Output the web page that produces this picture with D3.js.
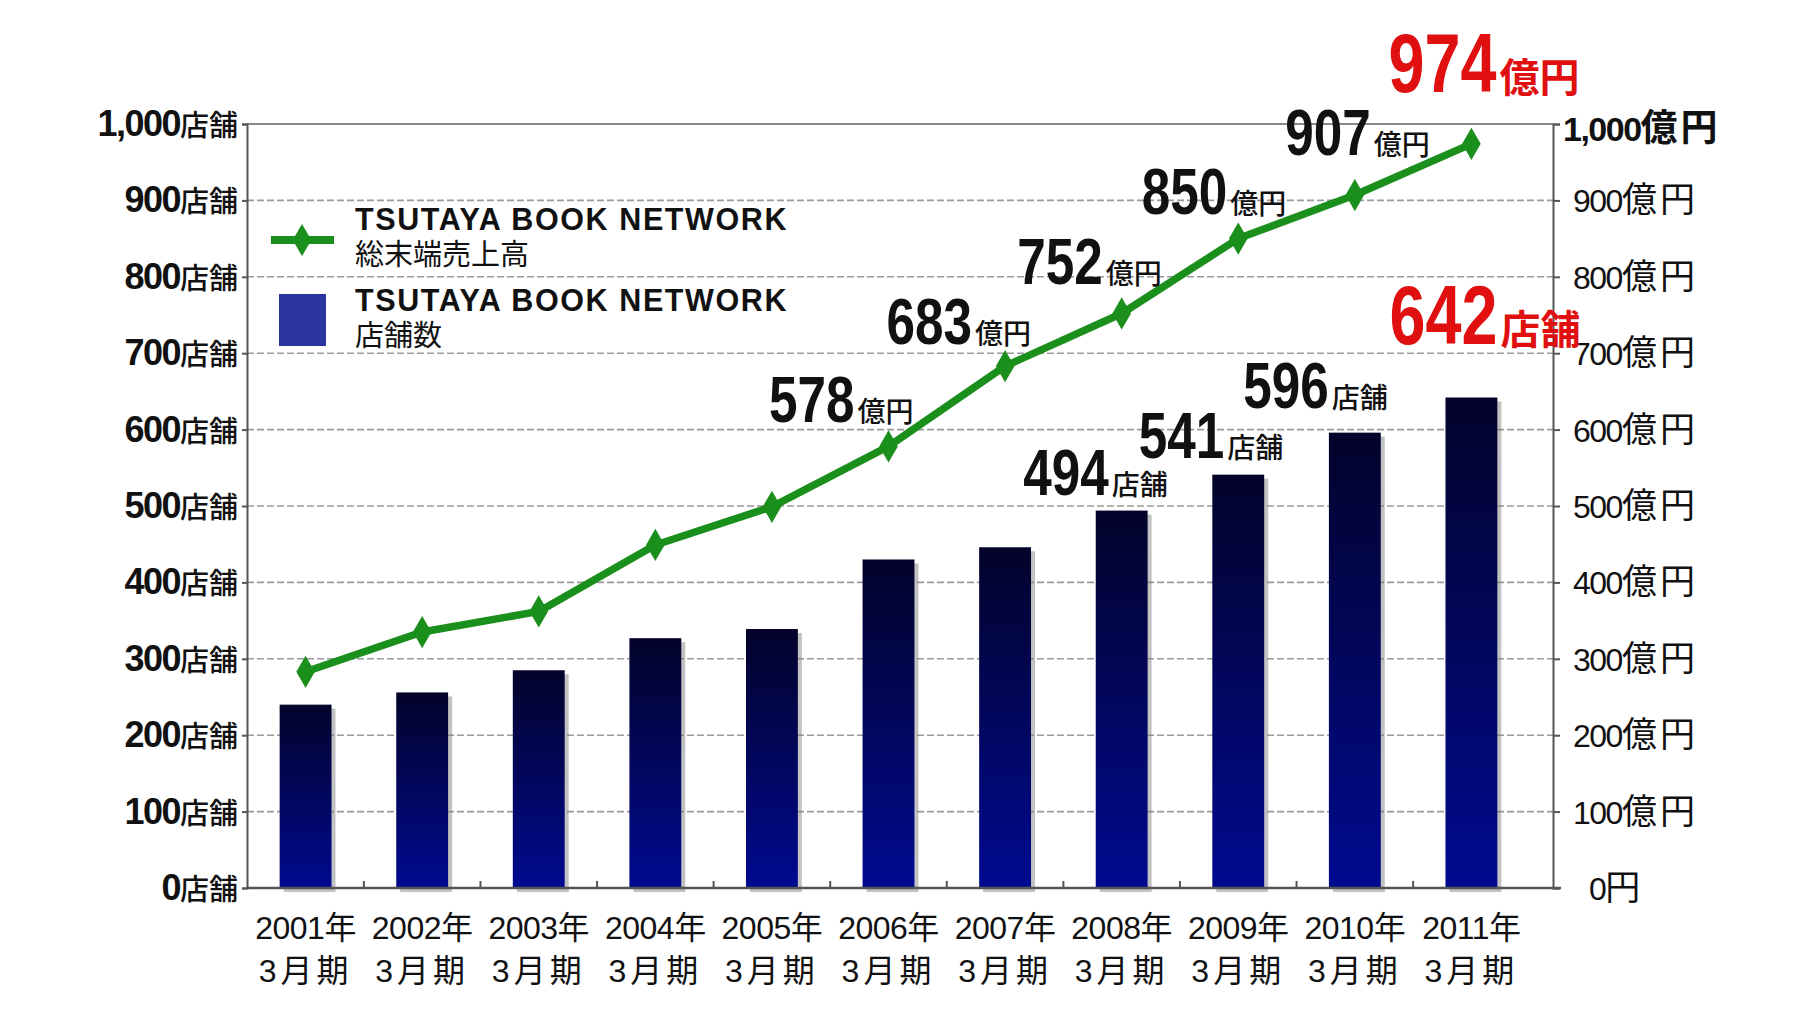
<!DOCTYPE html>
<html>
<head>
<meta charset="utf-8">
<script src="https://cdn.jsdelivr.net/npm/d3@7"></script>
<style>
  body { margin: 0; background: #fff; }
  svg { display: block; }
</style>
</head>
<body>
<div id="chart"></div>
<script>
// data
var years = ["2001年", "2002年", "2003年", "2004年", "2005年", "2006年", "2007年", "2008年", "2009年", "2010年", "2011年"];
var period = "3月期";
var stores = [240, 256, 285, 327, 339, 430, 446, 494, 541, 596, 642];   // 店舗数
var sales = [283, 335, 362, 449, 499, 578, 683, 752, 850, 907, 974];    // 億円
var ticks = [0, 100, 200, 300, 400, 500, 600, 700, 800, 900, 1000];
var salesLabelled = [5, 6, 7, 8, 9, 10];
var storesLabelled = [7, 8, 9, 10];
var legendNames = ["TSUTAYA BOOK NETWORK", "総末端売上高", "TSUTAYA BOOK NETWORK", "店舗数"];

// label nudges (px) relative to the point / bar top
var salesNudge = [[25, -24], [26, -22], [40, -29], [48, -25], [75, -40], [108, -52]];
var storesNudge = [[46, -16], [45, -17], [33, -25], [109, -54]];

var W = 1807, H = 1018,
    pL = 247, pR = 1553, pT = 124, pB = 888;

var svg = d3.select("#chart").append("svg")
    .attr("width", W).attr("height", H);

var defs = svg.append("defs");
var grad = defs.append("linearGradient").attr("id", "barGrad")
    .attr("x1", 0).attr("y1", 0).attr("x2", 0).attr("y2", 1);
grad.append("stop").attr("offset", "0%").attr("stop-color", "#03032a");
grad.append("stop").attr("offset", "100%").attr("stop-color", "#000a90");

// the bars sit a little left of centre in the frame, so the band range stops short of pR
var x = d3.scaleBand().domain(years).range([pL, 1530]).paddingInner(0.555).paddingOuter(0.28);
var y = d3.scaleLinear().domain([0, 1000]).range([pB, pT]);

var jpFont = "'Noto Sans CJK JP', sans-serif";
var latFont = "'Liberation Sans', Arial, 'Noto Sans CJK JP', sans-serif";

// grid
svg.append("g").selectAll("line").data(ticks.slice(1, -1)).enter().append("line")
    .attr("x1", pL).attr("x2", pR)
    .attr("y1", function(d) { return y(d); }).attr("y2", function(d) { return y(d); })
    .attr("stroke", "#9a9a9a").attr("stroke-width", 1.6).attr("stroke-dasharray", "7,3");

// frame top
svg.append("line").attr("x1", pL).attr("x2", pR).attr("y1", y(1000)).attr("y2", y(1000))
    .attr("stroke", "#8a8a8a").attr("stroke-width", 2);

// bars with a soft shadow
var bars = svg.append("g");
bars.selectAll("rect.sh").data(stores).enter().append("rect")
    .attr("class", "sh")
    .attr("x", function(d, i) { return x(years[i]) + 4; })
    .attr("y", function(d) { return y(d) + 4; })
    .attr("width", x.bandwidth())
    .attr("height", function(d) { return pB - y(d); })
    .attr("fill", "#777").attr("opacity", 0.45);
bars.selectAll("rect.bar").data(stores).enter().append("rect")
    .attr("class", "bar")
    .attr("x", function(d, i) { return x(years[i]); })
    .attr("y", function(d) { return y(d); })
    .attr("width", x.bandwidth())
    .attr("height", function(d) { return pB - y(d); })
    .attr("fill", "url(#barGrad)");

// axes
var yl = d3.axisLeft(y).tickValues(ticks).tickSize(5).tickFormat("");
svg.append("g").attr("transform", "translate(" + pL + ",0)").call(yl)
    .call(function(g) { g.selectAll("line,path").attr("stroke", "#555").attr("stroke-width", 2); });
var yr = d3.axisRight(y).tickValues(ticks).tickSize(7).tickFormat("");
svg.append("g").attr("transform", "translate(" + pR + ",0)").call(yr)
    .call(function(g) { g.selectAll("line,path").attr("stroke", "#555").attr("stroke-width", 2); });

svg.append("line").attr("x1", pL).attr("x2", pR + 8).attr("y1", pB).attr("y2", pB)
    .attr("stroke", "#555").attr("stroke-width", 2.5);
// small ticks between categories
var step = x.step();
svg.append("g").selectAll("line").data(years.slice(1)).enter().append("line")
    .attr("x1", function(d) { return x(d) - (step - x.bandwidth()) / 2; })
    .attr("x2", function(d) { return x(d) - (step - x.bandwidth()) / 2; })
    .attr("y1", pB).attr("y2", pB - 7)
    .attr("stroke", "#555").attr("stroke-width", 2);

// left tick labels
var lt = svg.append("g").selectAll("text").data(ticks).enter().append("text")
    .attr("x", pL - 9)
    .attr("y", function(d) { return y(d) + 12; })
    .attr("text-anchor", "end")
    .attr("fill", "#111");
lt.append("tspan").attr("font-family", latFont).attr("font-weight", "bold")
    .attr("font-size", 36).attr("letter-spacing", -1.5)
    .text(function(d) { return d3.format(",")(d); });
lt.append("tspan").attr("font-family", jpFont).attr("font-size", 29).attr("font-weight", 500)
    .text("店舗");

// right tick labels
var rt = svg.append("g").selectAll("text").data(ticks).enter().append("text")
    .attr("x", function(d) { return d === 0 ? pR + 36 : d === 1000 ? pR + 10 : pR + 20; })
    .attr("y", function(d) { return y(d) + 12 + (d === 1000 ? 5 : 0); })
    .attr("fill", "#111");
rt.append("tspan").attr("font-family", latFont)
    .attr("font-weight", function(d) { return d === 1000 ? "bold" : "normal"; })
    .attr("font-size", function(d) { return d === 1000 ? 34 : 32; })
    .attr("letter-spacing", -1.5)
    .text(function(d) { return d === 0 ? "0" : d3.format(",")(d); });
rt.append("tspan").attr("font-family", jpFont)
    .attr("font-weight", function(d) { return d === 1000 ? "bold" : "normal"; })
    .attr("font-size", function(d) { return d === 1000 ? 37 : 35; })
    .attr("letter-spacing", 3)
    .text(function(d) { return d === 0 ? "円" : "億円"; });

// x labels
var xl = svg.append("g").selectAll("text").data(years).enter().append("text")
    .attr("text-anchor", "middle")
    .attr("font-family", latFont).attr("font-size", 32).attr("fill", "#111");
xl.append("tspan")
    .attr("x", function(d) { return x(d) + x.bandwidth() / 2; })
    .attr("y", pB + 51).attr("letter-spacing", -0.5)
    .text(function(d) { return d; });
xl.append("tspan")
    .attr("x", function(d) { return x(d) + x.bandwidth() / 2; })
    .attr("y", pB + 94).attr("letter-spacing", 4)
    .text(period);

// sales line
var cx = function(i) { return x(years[i]) + x.bandwidth() / 2; };
var line = d3.line().x(function(d, i) { return cx(i); }).y(function(d) { return y(d); });
svg.append("path").datum(sales).attr("d", line)
    .attr("fill", "none").attr("stroke", "#1b8f1b").attr("stroke-width", 7.5)
    .attr("stroke-linejoin", "round");
var diamond = d3.symbol().type(d3.symbolDiamond).size(300);
svg.append("g").selectAll("path").data(sales).enter().append("path")
    .attr("d", diamond)
    .attr("transform", function(d, i) { return "translate(" + cx(i) + "," + y(d) + ")"; })
    .attr("fill", "#1b8f1b");

// value annotations: tall squeezed digits + small unit, one text each
function annotate(idx, values, nudge, unit) {
  var g = svg.append("g");
  idx.forEach(function(i, k) {
    var last = i === values.length - 1;
    var digits = String(values[i]).length;
    var t = g.append("text")
        .attr("x", cx(i) + nudge[k][0])
        .attr("y", y(values[i]) + nudge[k][1])
        .attr("text-anchor", "end")
        .attr("fill", last ? "#e01010" : "#111");
    t.append("tspan").attr("font-family", latFont).attr("font-weight", "bold")
        .attr("font-size", last ? 84 : 64)
        .attr("textLength", digits * (last ? 36 : 28.5))
        .attr("lengthAdjust", "spacingAndGlyphs")
        .text(values[i]);
    t.append("tspan").attr("font-family", jpFont).attr("font-weight", last ? "bold" : 500)
        .attr("font-size", last ? 40 : 28).attr("dx", 3)
        .text(unit);
  });
}
annotate(salesLabelled, sales, salesNudge, "億円");
annotate(storesLabelled, stores, storesNudge, "店舗");

// legend
var lg = svg.append("g");
lg.append("line").attr("x1", 271).attr("x2", 334).attr("y1", 240).attr("y2", 240)
    .attr("stroke", "#1b8f1b").attr("stroke-width", 8);
lg.append("path").attr("d", diamond).attr("transform", "translate(302,240)").attr("fill", "#1b8f1b");
lg.append("rect").attr("x", 279).attr("y", 294).attr("width", 47).attr("height", 52)
    .attr("fill", "#2c34a0");
var lx = 355;
[[230, 0], [265, 1], [311, 2], [346, 3]].forEach(function(p) {
  var latin = p[1] % 2 === 0;
  lg.append("text").attr("x", lx).attr("y", p[0])
      .attr("font-family", latin ? latFont : jpFont)
      .attr("font-weight", latin ? "bold" : "normal")
      .attr("font-size", latin ? 30.5 : 29)
      .attr("letter-spacing", latin ? 1.6 : 0)
      .attr("fill", "#111")
      .text(legendNames[p[1]]);
});
</script>
</body>
</html>
